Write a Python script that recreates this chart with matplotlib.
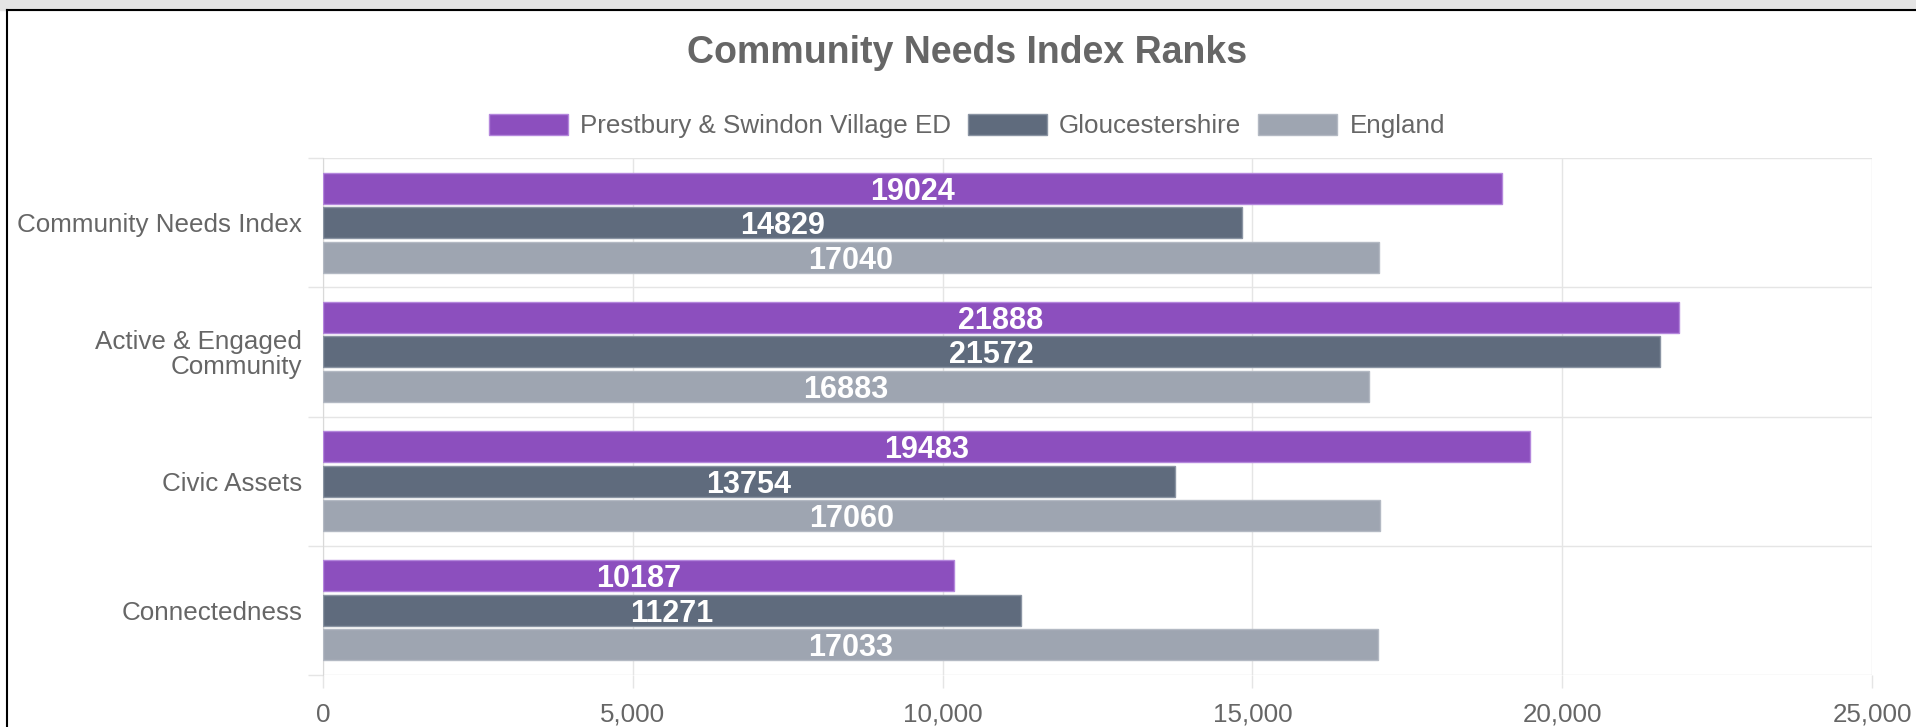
import matplotlib
matplotlib.use("Agg")
import matplotlib.pyplot as plt
from matplotlib.patches import Rectangle
from matplotlib.lines import Line2D
import numpy as np

plt.rcParams['font.family'] = ['Liberation Sans', 'DejaVu Sans']

categories = ['Community Needs Index', 'Active & Engaged\nCommunity', 'Civic Assets', 'Connectedness']
series_names = ['Prestbury & Swindon Village ED', 'Gloucestershire', 'England']
prestbury = [19024, 21888, 19483, 10187]
gloucestershire = [14829, 21572, 13754, 11271]
england = [17040, 16883, 17060, 17033]
x_ticks = [0, 5000, 10000, 15000, 20000, 25000]

colors = ['#8c4fbe', '#5f6b7d', '#9ea5b1']
edges = ['#b487dc', '#8a94a3', '#b3b9c3']
text_grey = '#666666'
grid_grey = '#e5e5e5'

W, H = 1916, 727
fig = plt.figure(figsize=(W / 100, H / 100), dpi=100)
ax = fig.add_axes([323 / W, 1 - 675 / H, (1872 - 323) / W, (675 - 158) / H])

# frame of the screenshot: grey strip and black border
fig.patches.append(Rectangle((0, 1 - 10 / H), 1, 10 / H, transform=fig.transFigure,
                             color='#e4e4e4', zorder=0))
fig.add_artist(Line2D([7 / W, 1], [1 - 10 / H, 1 - 10 / H], color='black', lw=1.5))
fig.add_artist(Line2D([7 / W, 7 / W], [0, 1 - 10 / H], color='black', lw=1.5))

y = np.arange(len(categories))
slot = 0.8 / 3
bar_h = slot * 0.9
all_series = [prestbury, gloucestershire, england]

for i, vals in enumerate(all_series):
    pos = y + (i - 1) * slot
    bars = ax.barh(pos, vals, height=bar_h, color=colors[i], edgecolor=edges[i],
                   linewidth=1, label=series_names[i], zorder=3)
    for b, v in zip(bars, vals):
        ax.text(v / 2, b.get_y() + b.get_height() / 2, str(v), ha='center',
                va='center_baseline', color='white', fontsize=22, fontweight='bold', zorder=4)

ax.set_xlim(0, 25000)
ax.set_ylim(len(categories) - 0.5, -0.5)
ax.set_xticks(x_ticks)
ax.set_xticklabels([f'{t:,}' for t in x_ticks])
ax.set_yticks(y)
ax.set_yticklabels(categories)
ax.set_yticks(np.arange(len(categories) + 1) - 0.5, minor=True)

ax.tick_params(axis='x', colors=grid_grey, labelcolor=text_grey, labelsize=18.7,
               length=9, width=1, pad=11)
ax.tick_params(axis='y', which='major', length=0, labelcolor=text_grey, labelsize=18.7, pad=15)
ax.tick_params(axis='y', which='minor', length=11, width=1, colors=grid_grey)
for lab in ax.get_yticklabels():
    lab.set_linespacing(1.05)

ax.grid(axis='x', which='major', color=grid_grey, lw=1, zorder=0)
ax.grid(axis='y', which='minor', color=grid_grey, lw=1, zorder=0)
for s in ['top', 'right', 'bottom']:
    ax.spines[s].set_visible(False)
ax.spines['left'].set_color('#d9d9d9')

fig.text(967 / W, 1 - 53 / H, 'Community Needs Index Ranks', ha='center', va='center',
         fontsize=27, fontweight='bold', color=text_grey)

handles, labels = ax.get_legend_handles_labels()
leg = fig.legend(handles, labels, loc='center', bbox_to_anchor=(967 / W, 1 - 126 / H),
                 ncol=3, frameon=False, fontsize=18.7, handlelength=3.04, handleheight=0.91,
                 handletextpad=0.47, columnspacing=0.65, borderaxespad=0)
for t in leg.get_texts():
    t.set_color(text_grey)

fig.savefig('out.png', dpi=100, facecolor='white')
